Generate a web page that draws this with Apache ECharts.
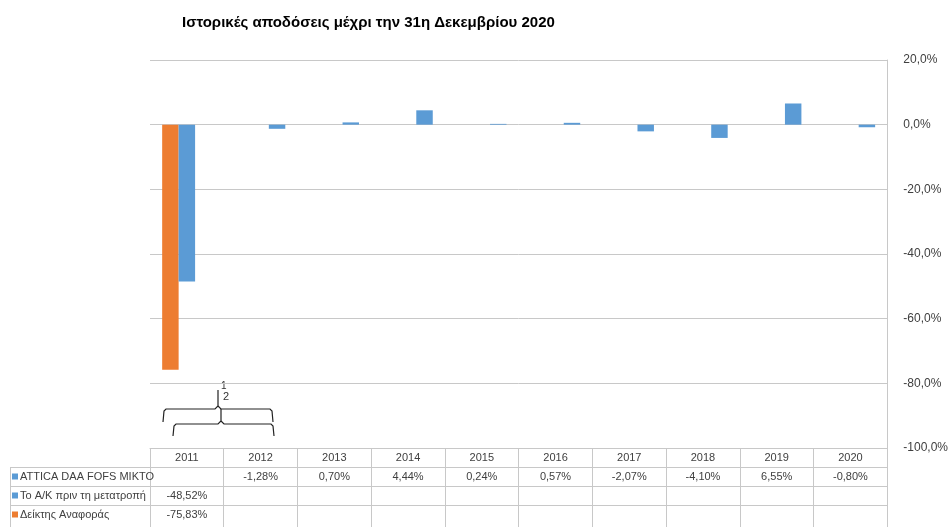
<!DOCTYPE html>
<html>
<head>
<meta charset="utf-8">
<script src="https://cdn.jsdelivr.net/npm/echarts@6/dist/echarts.min.js"></script>
<style>html,body{margin:0;padding:0;background:#fff}#c{width:951px;height:527px}</style>
</head>
<body>
<div id="c"></div>
<script>
var titleText = 'Ιστορικές αποδόσεις μέχρι την 31η Δεκεμβρίου 2020';
var years = ['2011','2012','2013','2014','2015','2016','2017','2018','2019','2020'];
var seriesNames = ['ATTICA DAA FOFS MIKTO', 'Το Α/Κ πριν τη μετατροπή', 'Δείκτης Αναφοράς'];
var attica = [null, -1.28, 0.70, 4.44, 0.24, 0.57, -2.07, -4.10, 6.55, -0.80];
var beforeConv = [-48.52, null, null, null, null, null, null, null, null, null];
var benchmark = [-75.83, null, null, null, null, null, null, null, null, null];
var yTicks = {min: -100, max: 20, interval: 20};

var BLUE = '#5b9bd5', ORANGE = '#ed7d31', GRID = '#c8c8c8', TXT = '#404040';
var FONT = '"Liberation Sans", Arial, sans-serif';

function pct(v){ return (v === null || v === undefined) ? '' : v.toFixed(2).replace('.', ',') + '%'; }

var chart = echarts.init(document.getElementById('c'));

function rowAxis(offset, arr, isYear){
  return {
    type: 'category', data: years, position: 'bottom', offset: offset, gridIndex: 0,
    axisLine: {show: true, onZero: false, lineStyle: {color: GRID, width: 1}},
    axisTick: {show: isYear, length: 79, lineStyle: {color: GRID, width: 1}},
    axisLabel: {
      show: true, margin: 4, color: TXT, fontSize: 11, fontFamily: FONT,
      formatter: function(v, i){ return isYear ? v : pct(arr[i]); }
    },
    splitLine: {show: false}
  };
}

var option = {
  animation: false,
  backgroundColor: '#fff',
  title: {
    text: titleText, left: 177, top: 10,
    textStyle: {fontSize: 15, fontWeight: 'bold', color: '#000', fontFamily: FONT}
  },
  legend: {
    orient: 'vertical', left: 12, top: 467, itemGap: 0, padding: 0, height: 100,
    icon: 'rect', itemWidth: 6, itemHeight: 6,
    data: seriesNames,
    textStyle: {fontSize: 11, color: TXT, fontFamily: FONT, lineHeight: 19, padding: [0,0,0,-3]},
    selectedMode: false
  },
  grid: {left: 150, right: 62, top: 60, bottom: 79, containLabel: false},
  xAxis: [
    rowAxis(0, null, true),
    rowAxis(19, attica, false),
    rowAxis(38, beforeConv, false),
    rowAxis(57, benchmark, false)
  ],
  yAxis: {
    type: 'value', position: 'right', min: yTicks.min, max: yTicks.max, interval: yTicks.interval,
    axisLine: {show: true, lineStyle: {color: GRID}},
    axisTick: {show: false},
    axisLabel: {margin: 16, color: TXT, fontSize: 12, fontFamily: FONT,
      formatter: function(v){ return v.toFixed(1).replace('.', ',') + '%'; }},
    splitLine: {show: true, lineStyle: {color: GRID, width: 1}}
  },
  series: [
    {name: seriesNames[2], type: 'bar', data: benchmark, itemStyle: {color: ORANGE}, barGap: '0%', barCategoryGap: '33%'},
    {name: seriesNames[1], type: 'bar', data: beforeConv, itemStyle: {color: BLUE}, barGap: '0%', barCategoryGap: '33%'},
    {name: seriesNames[0], type: 'bar', data: attica, itemStyle: {color: BLUE}, barGap: '0%', barCategoryGap: '33%'}
  ],
  graphic: [
    {type: 'line', shape: {x1: 10, y1: 467.5, x2: 150, y2: 467.5}, style: {stroke: GRID, lineWidth: 1}},
    {type: 'line', shape: {x1: 10, y1: 486.5, x2: 150, y2: 486.5}, style: {stroke: GRID, lineWidth: 1}},
    {type: 'line', shape: {x1: 10, y1: 505.5, x2: 150, y2: 505.5}, style: {stroke: GRID, lineWidth: 1}},
    {type: 'line', shape: {x1: 10.5, y1: 467, x2: 10.5, y2: 527}, style: {stroke: GRID, lineWidth: 1}},
    {type: 'text', left: 221, top: 381, style: {text: '1', fontSize: 10, fill: '#333', fontFamily: FONT}},
    {type: 'text', left: 223, top: 391, style: {text: '2', fontSize: 11, fill: '#333', fontFamily: FONT}},
    {type: 'polyline', shape: {points: [[163,422],[164,411],[166,409],[215,409],[218,406],[218,390]]}, style: {stroke: '#222', lineWidth: 1.2, fill: null}},
    {type: 'polyline', shape: {points: [[218,406],[221,409],[270,409],[272,411],[273,422]]}, style: {stroke: '#222', lineWidth: 1.2, fill: null}},
    {type: 'polyline', shape: {points: [[173,436],[174,426],[176,424],[218,424],[221,421],[221,409]]}, style: {stroke: '#222', lineWidth: 1.2, fill: null}},
    {type: 'polyline', shape: {points: [[221,421],[224,424],[271,424],[273,426],[274,436]]}, style: {stroke: '#222', lineWidth: 1.2, fill: null}}
  ]
};
chart.setOption(option);
</script>
</body>
</html>
